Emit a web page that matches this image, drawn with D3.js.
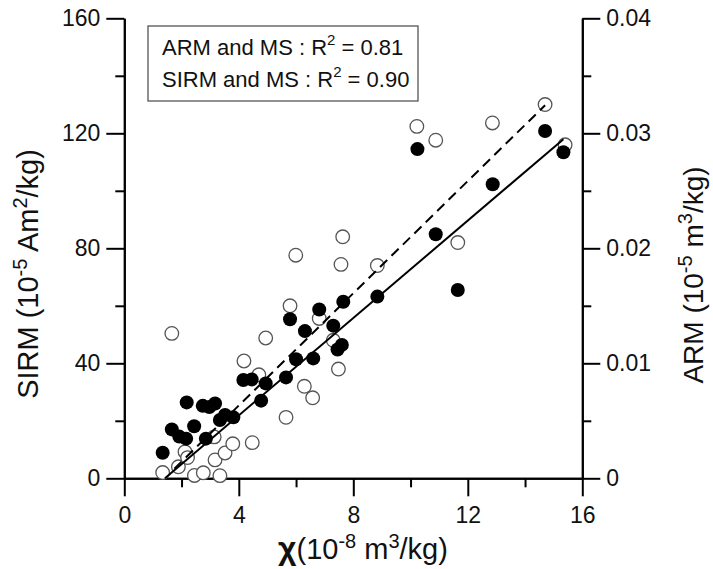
<!DOCTYPE html>
<html>
<head>
<meta charset="utf-8">
<script src="https://cdn.jsdelivr.net/npm/d3@7"></script>
<style>
  html, body { margin: 0; padding: 0; background: #fff; }
  svg { display: block; font-family: "Liberation Sans", Arial, Helvetica, sans-serif; }
</style>
</head>
<body>
<svg id="chart" width="713" height="569"></svg>
<script>
// ---- data ----
// SIRM (filled circles), units 10^-5 Am2/kg, against chi (10^-8 m3/kg)
const sirmX = [1.34, 1.66, 1.92, 2.16, 2.18, 2.44, 2.74, 2.85, 2.97, 3.17, 3.34, 3.52, 3.81, 4.16, 4.45, 4.78, 4.94, 5.65, 5.79, 6.0, 6.31, 6.60, 6.81, 7.30, 7.45, 7.60, 7.65, 8.84, 10.24, 10.88, 11.65, 12.87, 14.70, 15.34];
const sirmY = [8.9, 17.0, 14.5, 13.8, 26.4, 18.1, 25.2, 13.8, 24.8, 26.0, 20.3, 22.0, 21.2, 34.2, 34.4, 27.0, 33.0, 35.1, 55.3, 41.4, 51.2, 41.7, 58.7, 53.1, 44.8, 46.4, 61.4, 63.2, 114.5, 84.9, 65.5, 102.3, 120.8, 113.4];
// ARM (open circles), units 10^-5 m3/kg
const armX = [1.34, 1.66, 1.89, 2.12, 2.21, 2.45, 2.76, 3.14, 3.17, 3.34, 3.52, 3.79, 4.18, 4.47, 4.70, 4.94, 5.65, 5.79, 5.99, 6.29, 6.58, 6.81, 7.30, 7.48, 7.57, 7.63, 8.84, 10.22, 10.88, 11.65, 12.86, 14.70, 15.40];
const armY = [0.0005, 0.0126, 0.0010, 0.0023, 0.0018, 0.00025, 0.00048, 0.0036, 0.0016, 0.00023, 0.0022, 0.0030, 0.0102, 0.0031, 0.0090, 0.0122, 0.0053, 0.0150, 0.0194, 0.0080, 0.0070, 0.0139, 0.0120, 0.0095, 0.0186, 0.0210, 0.0185, 0.0306, 0.0294, 0.0205, 0.0309, 0.0325, 0.0290];
// regression lines: [slope, intercept], x-range
const sirmFit = [8.47, -12.0];
const sirmFitX = [1.42, 15.34];
const armFit = [0.00244, -0.00343];
const armFitX = [1.75, 14.70];
// ticks
const xTicks = [0, 4, 8, 12, 16];
const xMinor = [2, 6, 10, 14];
const yTicks = [0, 40, 80, 120, 160];
const yMinor = [20, 60, 100, 140];
const aTicks = [0, 0.01, 0.02, 0.03, 0.04];
const aMinor = [0.005, 0.015, 0.025, 0.035];
const legendLines = [["ARM and MS : R", "2", " = 0.81"], ["SIRM and MS : R", "2", " = 0.90"]];

// ---- layout ----
const svg = d3.select("#chart");
const x = d3.scaleLinear().domain([0, 16]).range([124.3, 582.3]);
const y = d3.scaleLinear().domain([0, 160]).range([478.3, 18.3]);
const ya = d3.scaleLinear().domain([0, 0.04]).range([478.3, 18.3]);

const MAJ = 18, MIN = 9, FS = 23;

function styleAxis(g) {
  g.select(".domain").attr("stroke", "#000").attr("stroke-width", 2);
  g.selectAll(".tick line").attr("stroke", "#000").attr("stroke-width", 2);
  g.selectAll(".tick text").attr("font-size", FS).attr("fill", "#111").attr("font-family", "Liberation Sans, Arial, sans-serif");
}

// bottom axis
const gx = svg.append("g").attr("transform", `translate(0,${y(0)})`)
  .call(d3.axisBottom(x).tickValues(xTicks).tickSize(MAJ).tickPadding(10).tickSizeOuter(0).tickFormat(d3.format("d")));
styleAxis(gx);
const gxm = svg.append("g").attr("transform", `translate(0,${y(0)})`)
  .call(d3.axisBottom(x).tickValues(xMinor).tickSize(MIN).tickSizeOuter(0).tickFormat(""));
styleAxis(gxm);

// left axis
const gy = svg.append("g").attr("transform", `translate(${x(0)},0)`)
  .call(d3.axisLeft(y).tickValues(yTicks).tickSize(MAJ).tickPadding(6).tickSizeOuter(0).tickFormat(d3.format("d")));
styleAxis(gy);
const gym = svg.append("g").attr("transform", `translate(${x(0)},0)`)
  .call(d3.axisLeft(y).tickValues(yMinor).tickSize(MIN).tickSizeOuter(0).tickFormat(""));
styleAxis(gym);

// right axis
const ga = svg.append("g").attr("transform", `translate(${x(16)},0)`)
  .call(d3.axisRight(ya).tickValues(aTicks).tickSize(MAJ).tickPadding(6).tickSizeOuter(0)
    .tickFormat(d => d === 0 ? "0" : d3.format(".2f")(d)));
styleAxis(ga);
const gam = svg.append("g").attr("transform", `translate(${x(16)},0)`)
  .call(d3.axisRight(ya).tickValues(aMinor).tickSize(MIN).tickSizeOuter(0).tickFormat(""));
styleAxis(gam);

// ---- points ----
const armData = armX.map((v, i) => ({ x: v, y: armY[i] }));
const sirmData = sirmX.map((v, i) => ({ x: v, y: sirmY[i] }));

svg.append("g").selectAll("circle").data(armData).enter().append("circle")
  .attr("cx", d => x(d.x)).attr("cy", d => ya(d.y)).attr("r", 6.8)
  .attr("fill", "#fff").attr("stroke", "#555").attr("stroke-width", 1.3);

svg.append("g").selectAll("circle").data(sirmData).enter().append("circle")
  .attr("cx", d => x(d.x)).attr("cy", d => y(d.y)).attr("r", 7)
  .attr("fill", "#000");

// ---- fit lines ----
const line = d3.line();
svg.append("path")
  .attr("d", line(sirmFitX.map(v => [x(v), y(sirmFit[0] * v + sirmFit[1])])))
  .attr("stroke", "#000").attr("stroke-width", 2).attr("fill", "none");
svg.append("path")
  .attr("d", line(armFitX.map(v => [x(v), ya(armFit[0] * v + armFit[1])])))
  .attr("stroke", "#000").attr("stroke-width", 2).attr("fill", "none")
  .attr("stroke-dasharray", "10,6");

// ---- legend ----
svg.append("rect").attr("x", 148).attr("y", 26).attr("width", 270).attr("height", 75)
  .attr("fill", "#fff").attr("stroke", "#555").attr("stroke-width", 1.3);
legendLines.forEach((parts, i) => {
  const t = svg.append("text").attr("x", 162).attr("y", 55 + i * 32).attr("font-size", 22).attr("fill", "#111");
  t.append("tspan").text(parts[0]);
  t.append("tspan").attr("dy", -10).attr("font-size", 15).text(parts[1]);
  t.append("tspan").attr("dy", 10).attr("font-size", 22).text(parts[2]);
});

// ---- axis titles ----
function titleWithSups(sel, parts) {
  parts.forEach(p => {
    const ts = sel.append("tspan").text(p.t);
    if (p.sup) ts.attr("dy", -11).attr("font-size", 20);
    else if (p.back) ts.attr("dy", 11);
    if (p.style) ts.attr("font-weight", "bold").attr("font-size", 32);
  });
}
const xt = svg.append("text").attr("x", 363).attr("y", 559).attr("text-anchor", "middle")
  .attr("font-size", 29).attr("fill", "#111");
titleWithSups(xt, [{ t: "χ", style: true }, { t: "(10" }, { t: "-8", sup: true }, { t: " m", back: true }, { t: "3", sup: true }, { t: "/kg)", back: true }]);

const yl = svg.append("text").attr("transform", "translate(38,274) rotate(-90)").attr("text-anchor", "middle")
  .attr("font-size", 29).attr("fill", "#111");
titleWithSups(yl, [{ t: "SIRM (10" }, { t: "-5", sup: true }, { t: " Am", back: true }, { t: "2", sup: true }, { t: "/kg)", back: true }]);

const al = svg.append("text").attr("transform", "translate(703,275) rotate(-90)").attr("text-anchor", "middle")
  .attr("font-size", 28).attr("fill", "#111");
titleWithSups(al, [{ t: "ARM (10" }, { t: "-5", sup: true }, { t: " m", back: true }, { t: "3", sup: true }, { t: "/kg)", back: true }]);
</script>
</body>
</html>
